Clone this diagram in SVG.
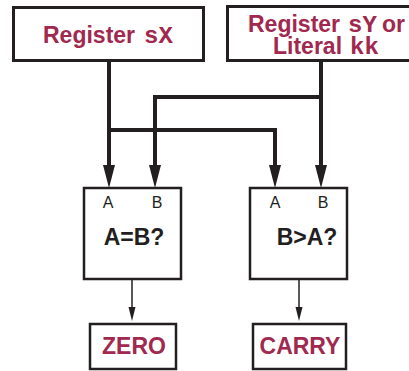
<svg xmlns="http://www.w3.org/2000/svg" width="409" height="371" viewBox="0 0 409 371">
<style>
.box{fill:#fff;stroke:#231f20;stroke-width:3}
.cmp{fill:#fff;stroke:#231f20;stroke-width:2.5}
.red{font-family:"Liberation Sans",Arial,sans-serif;font-weight:bold;font-size:23px;fill:#a1284f}
.mid{text-anchor:middle}
.mono{font-family:"Liberation Mono","Courier New","DejaVu Sans Mono",monospace;font-weight:bold;font-size:24px;fill:#a1284f}
.lbl{font-family:"Liberation Sans",Arial,sans-serif;font-size:16px;fill:#231f20;text-anchor:middle}
.op{font-family:"Liberation Sans",Arial,sans-serif;font-weight:bold;font-size:23px;fill:#231f20;text-anchor:middle}
.thick{fill:none;stroke:#231f20;stroke-width:4;stroke-linejoin:miter}
.thin{fill:none;stroke:#231f20;stroke-width:1.5}
</style>
<g id="connectors">
<path class="thick" d="M109,61 V166"/>
<path class="thick" d="M109,130 H275 V166"/>
<path class="thick" d="M321,61 V166"/>
<path class="thick" d="M321,97 H155 V166"/>
<polygon points="103,165 115,165 109,188" fill="#231f20"/>
<polygon points="149,165 161,165 155,188" fill="#231f20"/>
<polygon points="269,165 281,165 275,188" fill="#231f20"/>
<polygon points="315,165 327,165 321,188" fill="#231f20"/>
<path class="thin" d="M132,279 V310"/>
<path class="thin" d="M299,279 V310"/>
<polygon points="128.5,307 135.5,307 132,321" fill="#231f20"/>
<polygon points="295.5,307 302.5,307 299,321" fill="#231f20"/>
</g>
<g id="regX">
<rect class="box" x="13.5" y="7.5" width="190" height="53"/>
<text class="red" x="43" y="43">Register</text>
<text class="mono" x="144" y="43">sX</text>
</g>
<g id="regY">
<rect class="box" x="227.5" y="6.5" width="200" height="54"/>
<text class="red" x="248" y="32">Register</text>
<text class="mono" x="348" y="32">sY</text>
<text class="red" x="382" y="32">or</text>
<text class="red" x="273" y="54">Literal</text>
<text class="mono" x="350" y="54">kk</text>
</g>
<g id="cmpEq">
<rect class="cmp" x="84" y="188" width="97" height="91"/>
<text class="lbl" x="108" y="208">A</text>
<text class="lbl" x="157" y="208">B</text>
<text class="op" x="134" y="245">A=B?</text>
</g>
<g id="cmpGt">
<rect class="cmp" x="250" y="188" width="97" height="91"/>
<text class="lbl" x="275" y="208">A</text>
<text class="lbl" x="323" y="208">B</text>
<text class="op" x="307" y="245">B&gt;A?</text>
</g>
<g id="zero">
<rect class="cmp" x="90" y="324" width="86" height="45"/>
<text class="red mid" x="134" y="354">ZERO</text>
</g>
<g id="carry">
<rect class="cmp" x="253" y="324" width="93" height="45"/>
<text class="red mid" x="300" y="354">CARRY</text>
</g>
</svg>
